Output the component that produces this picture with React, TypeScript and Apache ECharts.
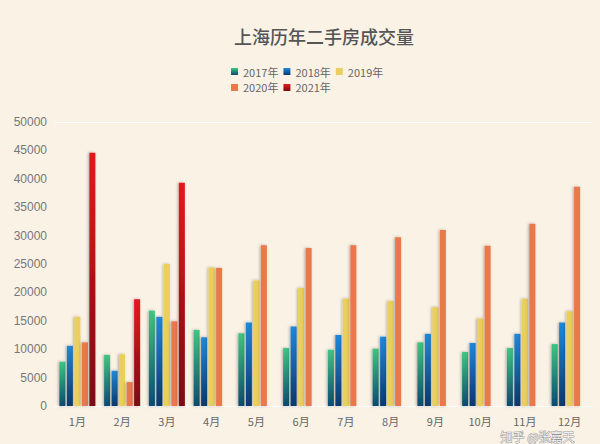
import React, { useEffect, useRef } from "react";
import * as echarts from "echarts";

const months = ["1月", "2月", "3月", "4月", "5月", "6月", "7月", "8月", "9月", "10月", "11月", "12月"];
const y2017 = [7800, 9000, 16800, 13400, 12800, 10200, 9900, 10100, 11200, 9500, 10200, 10900];
const y2018 = [10600, 6200, 15700, 12100, 14700, 14000, 12500, 12200, 12700, 11100, 12700, 14700];
const y2019 = [15700, 9100, 25000, 24400, 22100, 20800, 18900, 18500, 17400, 15400, 18900, 16700];
const y2020 = [11200, 4200, 14900, 24300, 28300, 27800, 28300, 29700, 31000, 28200, 32100, 38600];
const y2021 = [44600, 18800, 39300, null, null, null, null, null, null, null, null, null];
const yTicks = [0, 50000, 5000];

const grad = (top: string, bottom: string) =>
  new echarts.graphic.LinearGradient(0, 0, 0, 1, [
    { offset: 0, color: top },
    { offset: 1, color: bottom },
  ]);

export default function App() {
  const ref = useRef<HTMLDivElement>(null);
  useEffect(() => {
    if (!ref.current) return;
    const chart = echarts.init(ref.current, null, { renderer: "svg" });
    const mk = (name: string, data: (number | null)[], color: any) => ({
      name,
      type: "bar",
      data,
      barWidth: 6,
      barGap: "25%",
      itemStyle: {
        color,
        shadowColor: "rgba(0,0,0,0.3)",
        shadowBlur: 3,
        shadowOffsetX: -1,
      },
    });
    const series = [
      mk("2017年", y2017, grad("#3fc67f", "#0b4a70")),
      mk("2018年", y2018, grad("#2088d8", "#0a386b")),
      mk("2019年", y2019, "#ebcf5c"),
      mk("2020年", y2020, "#e9794b"),
      mk("2021年", y2021, grad("#e5181c", "#7a0a12")),
    ];
    const splitColors = [] as string[];
    const n = (yTicks[1] - yTicks[0]) / yTicks[2];
    for (let i = 0; i <= n; i++) splitColors.push(i === 0 || i === n ? "#ffffff" : "rgba(0,0,0,0)");
    chart.setOption({
      animation: false,
      backgroundColor: "#fbf2e6",
      title: {
        text: "上海历年二手房成交量",
        left: 229,
        top: 22,
        textStyle: { fontSize: 18, fontWeight: 500, color: "#555", fontFamily: "Noto Sans CJK SC" },
      },
      legend: {
        left: 226,
        top: 61,
        width: 165,
        itemWidth: 7,
        itemHeight: 7,
        itemGap: 5,
        icon: "rect",
        textStyle: { fontSize: 11, color: "#666", fontFamily: "Noto Sans CJK SC" },
      },
      grid: { left: 55, right: 8, top: 122, bottom: 38 },
      xAxis: {
        type: "category",
        data: months,
        axisLine: { lineStyle: { color: "#ffffff", width: 1 } },
        axisTick: { show: false },
        axisLabel: { fontSize: 11, color: "#666", margin: 9, fontFamily: "Noto Sans CJK SC" },
      },
      yAxis: {
        type: "value",
        min: yTicks[0],
        max: yTicks[1],
        interval: yTicks[2],
        axisLine: { show: false },
        axisTick: { show: false },
        axisLabel: { fontSize: 12, color: "#777", margin: 8, formatter: (v: number) => String(v) },
        splitLine: { show: true, lineStyle: { color: splitColors, width: 1 } },
      },
      color: ["#2fa871", "#1a6db0", "#ebcf5c", "#e9794b", "#b5121a"],
      series,
      graphic: [
        {
          type: "text",
          left: 500,
          top: 430,
          style: {
            text: "知乎 @张嘉天",
            fontSize: 12,
            fill: "rgba(255,255,255,0.9)",
            stroke: "rgba(120,120,120,0.75)",
            lineWidth: 1,
            fontFamily: "Noto Sans CJK SC",
          },
        },
      ],
    });
    return () => chart.dispose();
  }, []);
  return <div ref={ref} style={{ position: "absolute", left: 0, top: 0, width: 600, height: 444 }} />;
}
